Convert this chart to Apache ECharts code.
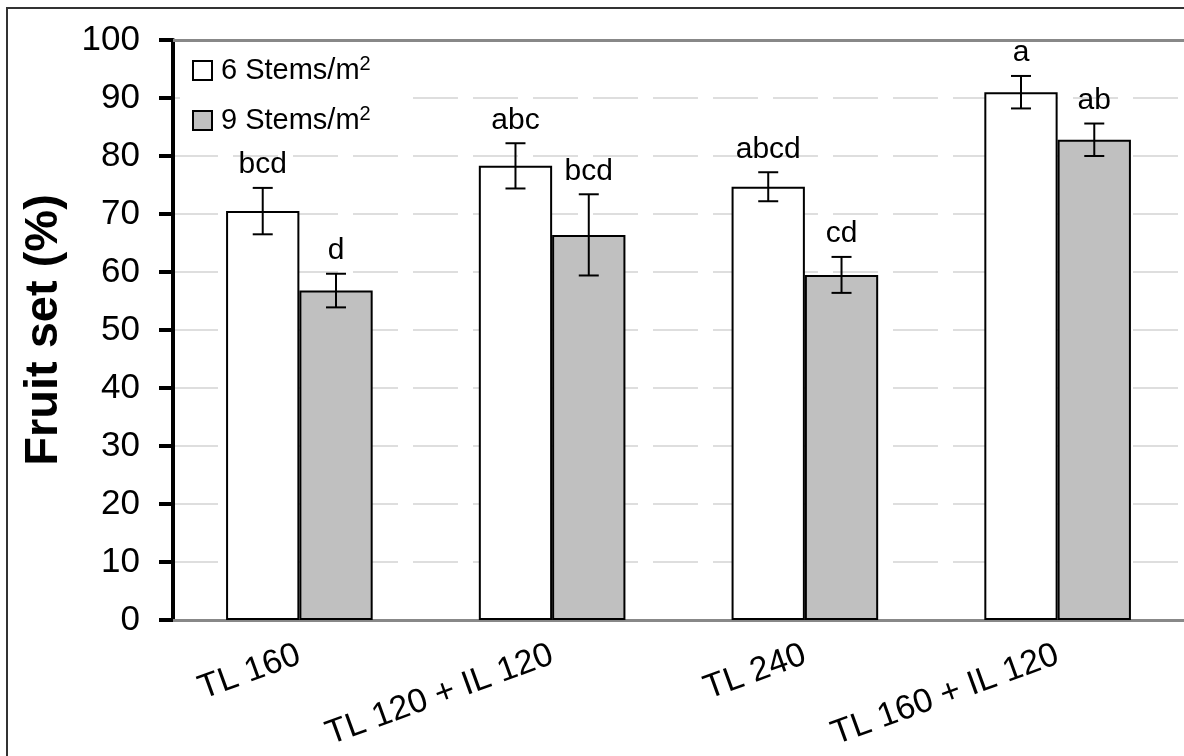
<!DOCTYPE html>
<html>
<head>
<meta charset="utf-8">
<script src="https://cdn.jsdelivr.net/npm/echarts@6/dist/echarts.min.js"></script>
<style>
  html, body { margin: 0; padding: 0; background: #fff; }
  #chart { width: 1184px; height: 756px; }
</style>
</head>
<body>
<div id="chart"></div>
<script>
var categories = ['TL 160', 'TL 120 + IL 120', 'TL 240', 'TL 160 + IL 120'];
var seriesNames = ['6 Stems/m2', '9 Stems/m2'];
var stems6 = [70.5, 78.3, 74.7, 91.0];
var stems6Err = [4.0, 3.9, 2.5, 2.8];
var stems6Letters = ['bcd', 'abc', 'abcd', 'a'];
var stems9 = [56.8, 66.4, 59.5, 82.8];
var stems9Err = [2.9, 7.0, 3.1, 2.8];
var stems9Letters = ['d', 'bcd', 'cd', 'ab'];
var yTicks = { min: 0, max: 100, interval: 10 };

var FONT = 'Arial, "Liberation Sans", sans-serif';
var BAR_W = 0.29;

// error bars + significance letters, drawn on top of a bar series
function errorSeries(vals, errs, letters, side) {
    return {
        type: 'custom',
        z: 10,
        silent: true,
        data: vals.map(function (v, i) { return [i, v, errs[i]]; }),
        renderItem: function (params, api) {
            var i = api.value(0), v = api.value(1), e = api.value(2);
            var band = api.size([1, 0])[0];
            var x = api.coord([i, v])[0] + side * band * BAR_W / 2;
            var top = api.coord([i, v + e])[1];
            var bot = api.coord([i, v - e])[1];
            var cap = 10;
            var ls = { stroke: '#000', lineWidth: 2 };
            return {
                type: 'group',
                children: [
                    { type: 'line', shape: { x1: x, y1: top, x2: x, y2: bot }, style: ls },
                    { type: 'line', shape: { x1: x - cap, y1: top, x2: x + cap, y2: top }, style: ls },
                    { type: 'line', shape: { x1: x - cap, y1: bot, x2: x + cap, y2: bot }, style: ls },
                    { type: 'text', style: {
                        text: letters[params.dataIndex], x: x, y: top - 8,
                        align: 'center', verticalAlign: 'bottom',
                        font: '30px ' + FONT, fill: '#000'
                    } }
                ]
            };
        }
    };
}

var option = {
    animation: false,
    backgroundColor: '#fff',
    graphic: [{
        type: 'rect', silent: true, z: -1,
        shape: { x: 7, y: 8, width: 1200, height: 800 },
        style: { fill: 'none', stroke: '#333', lineWidth: 2 }
    }],
    grid: { left: 173, right: -4, top: 40, bottom: 136 },
    legend: {
        orient: 'vertical',
        left: 180,
        top: 48,
        padding: [6, 30, 6, 12],
        backgroundColor: '#fff',
        itemWidth: 19,
        itemHeight: 19,
        itemGap: 19,
        icon: 'rect',
        data: seriesNames,
        formatter: function (name) {
            return '{t|' + name.slice(0, -1) + '}{s|' + name.slice(-1) + '}';
        },
        textStyle: {
            padding: [0, 0, 0, 4],
            rich: {
                t: { fontSize: 29, fontFamily: FONT, color: '#000', lineHeight: 33 },
                s: { fontSize: 20, fontFamily: FONT, color: '#000', verticalAlign: 'top', lineHeight: 18 }
            }
        }
    },
    xAxis: [{
        type: 'category',
        data: categories,
        axisLine: { lineStyle: { color: '#888', width: 3 } },
        axisTick: { show: false },
        axisLabel: { rotate: 20, margin: 34, fontSize: 34, fontFamily: FONT, color: '#000', interval: 0 }
    }, {
        type: 'category',
        data: categories,
        position: 'top',
        axisLine: { lineStyle: { color: '#888', width: 3 } },
        axisTick: { show: false },
        axisLabel: { show: false }
    }],
    yAxis: {
        type: 'value',
        min: yTicks.min,
        max: yTicks.max,
        interval: yTicks.interval,
        name: 'Fruit set (%)',
        nameLocation: 'middle',
        nameGap: 105,
        nameTextStyle: { fontSize: 47, fontWeight: 'bold', fontFamily: FONT, color: '#000' },
        axisLine: { show: true, lineStyle: { color: '#000', width: 4 } },
        axisTick: { show: true, length: 14, lineStyle: { color: '#000', width: 4 } },
        axisLabel: { margin: 33, fontSize: 35, fontFamily: FONT, color: '#000' },
        splitLine: { show: true, lineStyle: { color: '#d4d4d4', width: 1.5, type: [45, 15] } }
    },
    series: [
        {
            name: seriesNames[0],
            type: 'bar',
            data: stems6,
            barWidth: (BAR_W * 100) + '%',
            barGap: '0%',
            itemStyle: { color: '#fff', borderColor: '#000', borderWidth: 2 }
        },
        {
            name: seriesNames[1],
            type: 'bar',
            data: stems9,
            barWidth: (BAR_W * 100) + '%',
            barGap: '0%',
            itemStyle: { color: '#c0c0c0', borderColor: '#000', borderWidth: 2 }
        },
        errorSeries(stems6, stems6Err, stems6Letters, -1),
        errorSeries(stems9, stems9Err, stems9Letters, 1)
    ]
};

var myChart = echarts.init(document.getElementById('chart'));
myChart.setOption(option);
</script>
</body>
</html>
